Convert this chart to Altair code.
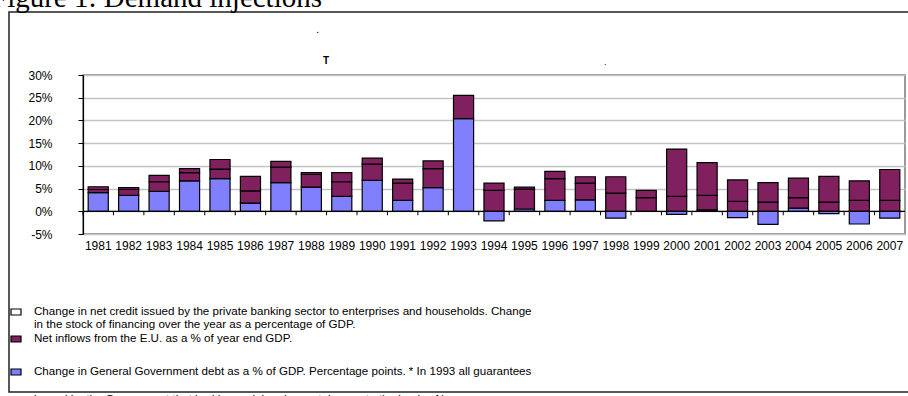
import altair as alt
import pandas as pd

# Annual demand injections, % of GDP
years = list(range(1981, 2008))
gov_debt = [4.1, 3.5, 4.4, 6.7, 7.2, 1.8, 6.3, 5.3, 3.3, 6.8, 2.4, 5.2, 20.4, -2.1,
            0.5, 2.4, 2.5, -1.5, 0.0, -0.7, 0.3, -1.4, -2.9, 0.7, -0.5, -2.8, -1.5]
eu_inflows = [0.7, 1.3, 2.1, 1.8, 2.1, 2.7, 3.4, 2.8, 3.2, 3.6, 3.8, 4.2, 5.1, 4.6,
              4.4, 4.8, 3.7, 4.0, 3.0, 3.3, 3.2, 2.2, 2.0, 2.3, 2.0, 2.4, 2.4]
net_credit = [0.6, 0.4, 1.4, 0.9, 2.1, 3.2, 1.3, 0.4, 2.0, 1.3, 0.9, 1.7, 0.0, 1.6,
              0.4, 1.6, 1.4, 3.6, 1.6, 10.4, 7.2, 4.7, 4.3, 4.3, 5.7, 4.3, 6.8]

series_keys = ["gov", "eu", "credit"]
series_order = {"gov": 0, "eu": 1, "credit": 2}
series_fill = ["#8080ff", "#80205f", "#80205f"]

legend_lines = [
    "Change in net credit issued by the private banking sector to enterprises and households. Change",
    "in the stock of financing over the year as a percentage of GDP.",
    "Net inflows from the E.U. as a % of year end GDP.",
    "Change in General Government debt as a % of GDP. Percentage points. * In 1993 all guarantees",
    "issued by the Government that had been claimed were taken on to the books. New",
]

year_labels = [str(y) for y in years]

rows = []
for i, yr in enumerate(year_labels):
    for key, vals in (("gov", gov_debt), ("eu", eu_inflows), ("credit", net_credit)):
        rows.append({"year": yr, "series": key, "value": vals[i],
                     "ord": series_order[key]})
df = pd.DataFrame(rows)
year_df = pd.DataFrame({"year": year_labels})

# plot area geometry (pixels)
W, H = 822, 159
LEFT, TOP = 83, 75
ZERO_Y = H * 30 / 35
PAD_INNER = 0.34
HALF_GAP = PAD_INNER * (W / len(years)) / 2

FONT = "Liberation Sans"


def cx(x):
    return x - LEFT


def cy(y):
    return y - TOP


one = alt.Data(values=[{"k": 1}])
x_scale = alt.Scale(paddingInner=PAD_INNER, paddingOuter=PAD_INNER / 2)

bars = alt.Chart(df).transform_filter("datum.value != 0").mark_bar(
    stroke="#000000", strokeWidth=1.2
).encode(
    x=alt.X("year:N", title=None, sort=year_labels, scale=x_scale,
            axis=alt.Axis(labelAngle=0, domain=False, ticks=False, grid=False,
                          labelPadding=6, labelFont=FONT, labelFontSize=12,
                          labelColor="#000000")),
    y=alt.Y("value:Q", title=None, stack="zero",
            scale=alt.Scale(domain=[-5, 30], nice=False, zero=False),
            axis=alt.Axis(values=[-5, 0, 5, 10, 15, 20, 25, 30],
                          labelExpr="datum.value + '%'", domainColor="#000000",
                          domainWidth=1.2, tickColor="#000000", tickSize=5,
                          labelPadding=26, labelFont=FONT, labelFontSize=12,
                          labelColor="#000000", gridColor="#c4c4c4",
                          gridWidth=1.3)),
    color=alt.Color("series:N", legend=None,
                    scale=alt.Scale(domain=series_keys, range=series_fill)),
    order=alt.Order("ord:Q"),
)

# zero line across the plot
zero_line = alt.Chart(one).mark_rule(color="#000000", strokeWidth=1.2).encode(
    x=alt.value(0), x2=alt.value(W), y=alt.value(ZERO_Y)
)

# category tick marks on the zero line, at the boundaries between years
year_ticks = alt.Chart(year_df).mark_rule(
    color="#000000", strokeWidth=1, xOffset=-HALF_GAP
).encode(
    x=alt.X("year:N", sort=year_labels, bandPosition=0, scale=x_scale),
    y=alt.value(ZERO_Y), y2=alt.value(ZERO_Y + 4),
)


def text_layer(txt, x, y, size=11.6, font=FONT, weight="normal", baseline="middle"):
    return alt.Chart(one).mark_text(
        text=txt, align="left", baseline=baseline, font=font, fontSize=size,
        fontWeight=weight, color="#000000"
    ).encode(x=alt.value(cx(x)), y=alt.value(cy(y)))


def swatch(fill, y):
    return alt.Chart(one).mark_rect(
        fill=fill, stroke="#000000", strokeWidth=1.2
    ).encode(x=alt.value(cx(11)), x2=alt.value(cx(21)),
             y=alt.value(cy(y - 3)), y2=alt.value(cy(y + 3)))


frame = alt.Chart(one).mark_rect(
    filled=False, stroke="#222222", strokeWidth=1.5
).encode(x=alt.value(cx(9)), x2=alt.value(cx(930)),
         y=alt.value(cy(12)), y2=alt.value(cy(392)))

layers = [
    frame,
    bars,
    zero_line,
    year_ticks,
    text_layer("Figure 1: Demand injections", -9, 7, size=29,
               font="Liberation Serif", baseline="alphabetic"),
    text_layer(".", 316, 30),
    text_layer("T", 323, 61, size=10, weight="bold"),
    text_layer(".", 604, 62, size=9),
    swatch("#ffffff", 312),
    swatch("#80205f", 339),
    swatch("#8080ff", 372),
    text_layer(legend_lines[0], 34, 311.5),
    text_layer(legend_lines[1], 34, 324.5),
    text_layer(legend_lines[2], 34, 339),
    text_layer(legend_lines[3], 34, 372),
    text_layer(legend_lines[4], 34, 400),
]

chart = alt.layer(*layers).properties(
    width=W, height=H,
    autosize=alt.AutoSizeParams(type="none"),
    padding={"left": LEFT, "top": TOP, "right": 908 - LEFT - W, "bottom": 396 - TOP - H},
    background="#ffffff",
).configure_view(stroke="#9a9a9a", strokeWidth=2)

chart.save("out.html", embed_options={"renderer": "svg", "actions": False})
